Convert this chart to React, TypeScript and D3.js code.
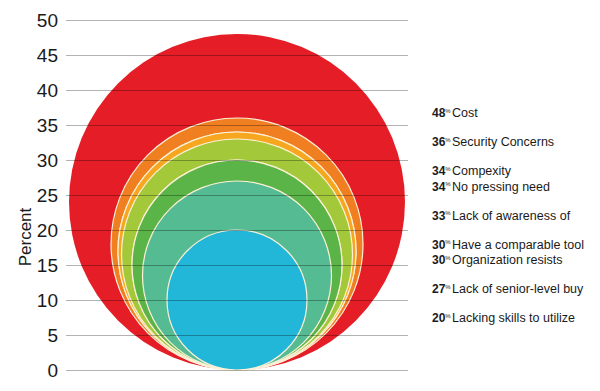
import React, { useEffect, useRef } from 'react';
import * as d3 from 'd3';

// legend entries, largest first
const values = [48, 36, 34, 34, 33, 30, 30, 27, 20];
const labels = [
  'Cost',
  'Security Concerns',
  'Compexity',
  'No pressing need',
  'Lack of awareness of',
  'Have a comparable tool',
  'Organization resists',
  'Lack of senior-level buy',
  'Lacking skills to utilize',
];
const colors = [
  '#e41d26',
  '#f07f22',
  '#f6a71f',
  '#f6a71f',
  '#a3c93a',
  '#5bb447',
  '#5bb447',
  '#55bb93',
  '#22b6d8',
];
const yTicks = [0, 5, 10, 15, 20, 25, 30, 35, 40, 45, 50];

const App = () => {
  const svgRef = useRef<SVGSVGElement>(null);

  useEffect(() => {
    const svg = d3.select(svgRef.current);
    svg.selectAll('*').remove();

    const width = 600;
    const height = 391;
    const gridLeft = 66;
    const gridRight = 408;
    const cx = 237;

    const y = d3.scaleLinear().domain([0, 50]).range([370, 20]);

    svg.append('rect').attr('width', width).attr('height', height).attr('fill', '#fff');

    // nested circles, all resting on the zero line
    const circles = values.map((v, i) => ({ v, c: colors[i] }));
    svg.append('g')
      .selectAll('circle')
      .data(circles)
      .join('circle')
      .attr('cx', cx)
      .attr('cy', d => (y(0) + y(d.v)) / 2)
      .attr('r', d => (y(0) - y(d.v)) / 2)
      .attr('fill', d => d.c)
      .attr('stroke', (d, i) => (i === 0 ? 'none' : '#fdf1d8'))
      .attr('stroke-width', 1.2);

    // gridlines drawn over the circles
    svg.append('g')
      .selectAll('line')
      .data(yTicks)
      .join('line')
      .attr('x1', gridLeft)
      .attr('x2', gridRight)
      .attr('y1', d => y(d) + 0.5)
      .attr('y2', d => y(d) + 0.5)
      .attr('stroke', 'rgba(0,0,0,0.3)')
      .attr('stroke-width', 1);

    svg.append('g')
      .selectAll('text')
      .data(yTicks)
      .join('text')
      .attr('x', 58)
      .attr('y', d => y(d))
      .attr('dy', '0.35em')
      .attr('text-anchor', 'end')
      .attr('font-family', 'Liberation Sans, Arial, sans-serif')
      .attr('font-size', 19)
      .attr('fill', '#1a1a1a')
      .text(d => d);

    svg.append('text')
      .attr('transform', 'translate(31,237) rotate(-90)')
      .attr('text-anchor', 'middle')
      .attr('font-family', 'Liberation Sans, Arial, sans-serif')
      .attr('font-size', 17)
      .attr('fill', '#1a1a1a')
      .text('Percent');

    // legend: equal values share a group, tighter line spacing
    let ly = 113;
    const legend = svg.append('g')
      .attr('font-family', 'Liberation Sans, Arial, sans-serif')
      .attr('fill', '#1a1a1a');
    values.forEach((v, i) => {
      if (i > 0) ly += values[i - 1] === v ? 15.5 : 29;
      const t = legend.append('text')
        .attr('x', 432)
        .attr('y', ly + 4.3)
        .attr('font-size', 12);
      t.append('tspan').attr('font-weight', 'bold').text(v);
      t.append('tspan').attr('font-size', 6).attr('dy', -4.5).text('%');
      legend.append('text')
        .attr('x', 452)
        .attr('y', ly + 4.3)
        .attr('font-size', 12.5)
        .text(labels[i]);
    });
  }, []);

  return (
    <svg
      ref={svgRef}
      width={600}
      height={391}
      style={{ position: 'absolute', left: 0, top: 0 }}
    ></svg>
  );
};

export default App;
